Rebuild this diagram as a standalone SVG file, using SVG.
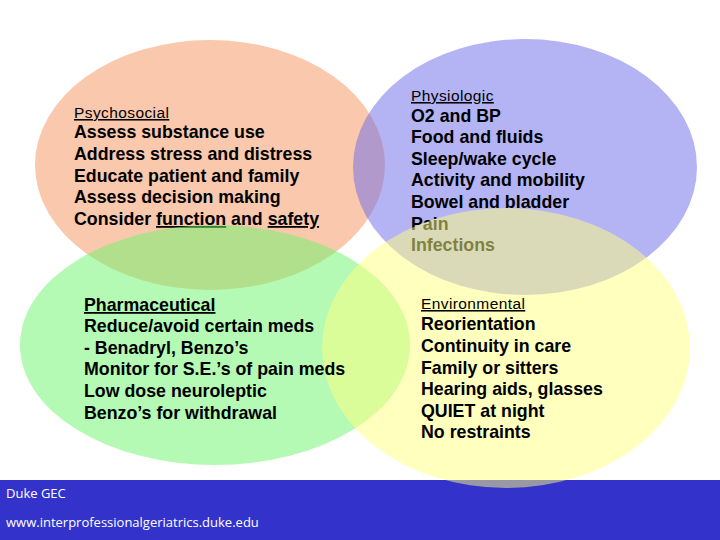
<svg xmlns="http://www.w3.org/2000/svg" width="720" height="540" viewBox="0 0 720 540">
<style>
.t{font-family:"Liberation Sans",Arial,sans-serif;font-size:17.8px;font-weight:bold;fill:#000}
.h{font-family:"Liberation Sans",Arial,sans-serif;font-size:15.5px;letter-spacing:0.4px;fill:#000;text-decoration:underline}
.f{font-family:"Open Sans",sans-serif;font-size:13px;fill:#fff}
.e{opacity:0.5}
</style>
<rect width="720" height="540" fill="#fff"/>
<rect id="footer" x="0" y="480" width="720" height="60" fill="#3333cc"/>
<ellipse id="c-psych" class="e" cx="210" cy="165" rx="175" ry="125" fill="#f5915a"/>
<g id="psychosocial">
<text class="h" x="74" y="118">Psychosocial</text>
<text class="t" x="74" y="138">Assess substance use</text>
<text class="t" x="74" y="160">Address stress and distress</text>
<text class="t" x="74" y="182">Educate patient and family</text>
<text class="t" x="74" y="203">Assess decision making</text>
<text class="t" x="74" y="225">Consider <tspan text-decoration="underline">function</tspan> and <tspan text-decoration="underline">safety</tspan></text>
</g>
<ellipse id="c-phys" class="e" cx="525" cy="167" rx="172" ry="128" fill="#6969eb"/>
<g id="physiologic">
<text class="h" x="411" y="101">Physiologic</text>
<text class="t" x="411" y="122">O2 and BP</text>
<text class="t" x="411" y="143">Food and fluids</text>
<text class="t" x="411" y="165">Sleep/wake cycle</text>
<text class="t" x="411" y="186">Activity and mobility</text>
<text class="t" x="411" y="208">Bowel and bladder</text>
<text class="t" x="411" y="230">Pain</text>
<text class="t" x="411" y="251">Infections</text>
</g>
<ellipse id="c-pharm" class="e" cx="215" cy="345" rx="195" ry="120" fill="#69f569"/>
<ellipse id="c-env" class="e" cx="506" cy="348" rx="184" ry="140" fill="#ffff7d"/>
<g id="pharmaceutical">
<text class="t" x="84" y="311" text-decoration="underline">Pharmaceutical</text>
<text class="t" x="84" y="332">Reduce/avoid certain meds</text>
<text class="t" x="84" y="354">- Benadryl, Benzo’s</text>
<text class="t" x="84" y="375">Monitor for S.E.’s of pain meds</text>
<text class="t" x="84" y="397">Low dose neuroleptic</text>
<text class="t" x="84" y="419">Benzo’s for withdrawal</text>
</g>
<g id="environmental">
<text class="h" x="421" y="309">Environmental</text>
<text class="t" x="421" y="330">Reorientation</text>
<text class="t" x="421" y="352">Continuity in care</text>
<text class="t" x="421" y="374">Family or sitters</text>
<text class="t" x="421" y="395">Hearing aids, glasses</text>
<text class="t" x="421" y="417">QUIET at night</text>
<text class="t" x="421" y="438">No restraints</text>
</g>
<g id="footer-text">
<text class="f" x="6" y="498">Duke GEC</text>
<text class="f" x="6" y="527">www.interprofessionalgeriatrics.duke.edu</text>
</g>
</svg>
